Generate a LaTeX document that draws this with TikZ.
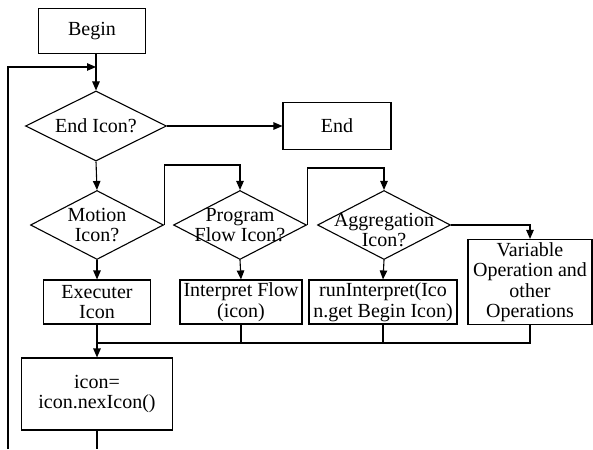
\documentclass[tikz,border=0pt]{standalone}
\usepackage{fontspec}
\setmainfont{Liberation Serif}
\usepackage{tikz}
\usetikzlibrary{shapes.geometric, arrows.meta, positioning}
\tikzset{block/.style={rectangle,draw,align=center,inner sep=0pt,line width=1.1pt},
         decision/.style={diamond,draw,inner sep=0pt,line width=1.1pt,minimum width=133pt,minimum height=69pt},
         dtext/.style={align=center,inner sep=0pt},
         line/.style={line width=1.1pt},
         arrow/.style={-{Triangle[length=9pt,width=7.5pt]},line width=1.1pt}}

\begin{document}
\begin{tikzpicture}[x=1pt,y=-1pt,font=\fontsize{20}{20.5}\selectfont]
    \useasboundingbox (0,0) rectangle (593,449);
    \node (begin) [block, minimum width=107pt, minimum height=45pt] at (92,31) {Begin};
    \node (endicon) [decision, minimum width=141pt, minimum height=70pt] at (96,126) {};
    \node (endicontxt) [dtext] at (endicon) {End Icon?};
    \node (end) [block, minimum width=108pt, minimum height=47pt] at (337,126) {End};
    \node (motion) [decision] at (97,225) {};
    \node (motiontxt) [dtext] at (motion) {Motion\\Icon?};
    \node (flow) [decision] at (240,225) {};
    \node (flowtxt) [dtext] at (flow) {Program\\Flow Icon?};
    \node (aggr) [decision] at (384,225) {};
    \node (aggrtxt) [dtext, yshift=-5pt] at (aggr) {Aggregation\\Icon?};
    \node (exec) [block, minimum width=107pt, minimum height=44pt] at (97,302) {Executer\\Icon};
    \node (interp) [block, minimum width=122pt, minimum height=44pt] at (241,302) {Interpret Flow\\(icon)};
    \node (runint) [block, minimum width=148pt, minimum height=44pt] at (383,302) {runInterpret(Ico\\n.get Begin Icon)};
    \node (var) [block, minimum width=124pt, minimum height=85pt] at (530,282) {Variable\\Operation and\\other\\Operations};
    \node (icon) [block, minimum width=151pt, minimum height=72pt] at (97,394) {icon=\\icon.nexIcon()};
    \coordinate (join) at (96,67);
    \coordinate (loopbot) at (8,449);
    \coordinate (merge) at (97,343);

    \draw[line] (begin.south -| join) -- (join);
    \draw[arrow] (join) -- (endicon.north);
    \draw[arrow] (loopbot) |- (join);
    \draw[arrow] (endicon.east) -- (end.west);
    \draw[arrow] (endicon.south) -- (motion.north);
    \draw[arrow] (motion.east) -- ++(0,-60) -| (flow.north);
    \draw[arrow] (flow.east) -- ++(0,-57) -| (aggr.north);
    \draw[arrow] (aggr.east) -| (var.north);
    \draw[arrow] (motion.south) -- (exec.north);
    \draw[arrow] (flow.south) -- (interp.north);
    \draw[arrow] (aggr.south) -- (runint.north);
    \draw[arrow] (exec.south) -- (icon.north);
    \draw[line] (var.south) |- (merge);
    \foreach \x in {interp,runint} {\draw[line] (\x.south) -- (\x.south |- merge);}
    \draw[line] (icon.south) -- (icon.south |- loopbot);
  \end{tikzpicture}
\end{document}
